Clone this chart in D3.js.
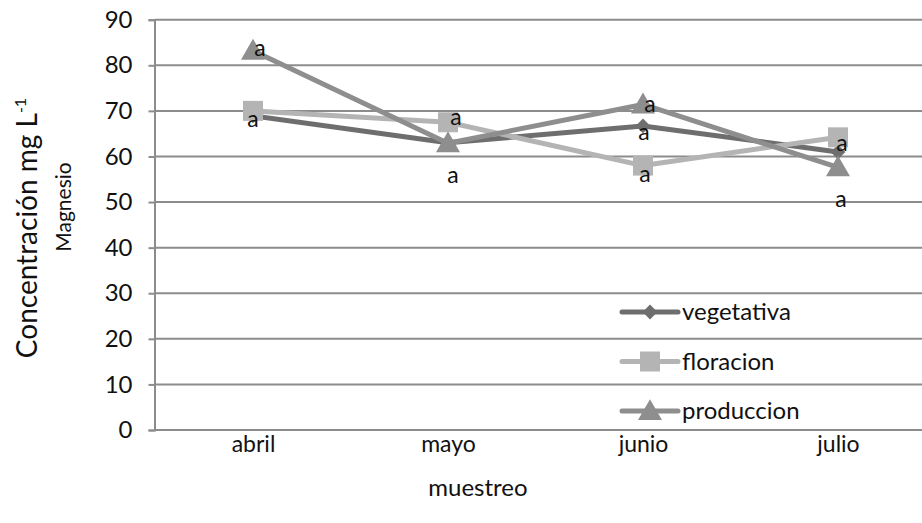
<!DOCTYPE html>
<html>
<head>
<meta charset="utf-8">
<script src="https://cdn.jsdelivr.net/npm/d3@7"></script>
<style>
  html, body { margin: 0; padding: 0; background: #fff; }
  svg { display: block; }
  text { font-family: Lato, "Open Sans", sans-serif; fill: #111; }
</style>
</head>
<body>
<svg id="chart" width="922" height="523"></svg>
<script>
// Magnesium concentration by sampling month
const months = ["abril", "mayo", "junio", "julio"];
const seriesNames = ["vegetativa", "floracion", "produccion"];
const vegetativa = [68.9, 63.0, 66.7, 61.0];
const floracion = [70.0, 67.5, 58.0, 64.2];
const produccion = [83.2, 62.9, 71.4, 57.6];
const yTicks = [0, 10, 20, 30, 40, 50, 60, 70, 80, 90];
// significance letters per point ("" = not shown)
const vegetativaLetters = ["a", "", "a", ""];
const floracionLetters = ["", "a", "a", "a"];
const produccionLetters = ["a", "a", "a", "a"];

const svg = d3.select("#chart");
const W = 922, H = 523;
const plot = { left: 154.5, top: 19.7, bottom: 430 };
const font = "Lato, 'Open Sans', sans-serif";

const x = d3.scalePoint().domain(months).range([155.5, 935.5]).padding(0.5);
const y = d3.scaleLinear().domain([0, 90]).range([plot.bottom, plot.top]);

const styles = {
  vegetativa: { color: "#6e6e6e", symbol: "diamond" },
  floracion:  { color: "#b4b4b4", symbol: "square" },
  produccion: { color: "#8e8e8e", symbol: "triangle" }
};
// letter placement relative to each marker
const letterShift = {
  vegetativa: [[0, 3], [0, 0], [1, 6], [0, 0]],
  floracion:  [[0, 0], [8, -5], [2, 8], [4, 6]],
  produccion: [[7, -3], [5, 32], [7, -1], [3, 32]]
};

const series = [
  { name: "vegetativa", values: vegetativa, letters: vegetativaLetters },
  { name: "floracion", values: floracion, letters: floracionLetters },
  { name: "produccion", values: produccion, letters: produccionLetters }
];

const gridColor = "#8c8c8c";

// horizontal gridlines
svg.append("g")
  .selectAll("line")
  .data(yTicks.filter(d => d > 0))
  .join("line")
  .attr("x1", plot.left).attr("x2", W)
  .attr("y1", d => y(d)).attr("y2", d => y(d))
  .attr("stroke", gridColor).attr("stroke-width", 2);

// y axis
const yAxis = svg.append("g")
  .attr("transform", `translate(${plot.left},0)`)
  .call(d3.axisLeft(y).tickValues(yTicks).tickSize(6).tickPadding(16));
yAxis.select(".domain").attr("stroke", gridColor).attr("stroke-width", 2);
yAxis.selectAll(".tick line").attr("stroke", gridColor).attr("stroke-width", 2);
yAxis.selectAll(".tick text")
  .style("font-family", font).style("font-size", "24px").attr("fill", "#111");

// x axis
const xAxis = svg.append("g")
  .attr("transform", `translate(0,${plot.bottom})`)
  .call(d3.axisBottom(x).tickSize(0).tickPadding(6));
xAxis.select(".domain").attr("d", `M${plot.left},0H${W}`)
  .attr("stroke", gridColor).attr("stroke-width", 2);
xAxis.selectAll(".tick text")
  .style("font-family", font).style("font-size", "23px").attr("fill", "#111");

// marker shapes
function marker(sel, kind, color) {
  if (kind === "square") {
    sel.append("path").attr("d", d3.symbol(d3.symbolSquare, 400)()).attr("fill", color);
  } else if (kind === "diamond") {
    sel.append("path").attr("d", d3.symbol(d3.symbolSquare, 110)())
      .attr("transform", "rotate(45)").attr("fill", color);
  } else {
    sel.append("path").attr("d", d3.symbol(d3.symbolTriangle, 250)())
      .attr("transform", "translate(0,2)").attr("fill", color);
  }
}

const line = d3.line().x((d, i) => x(months[i])).y(d => y(d));

const marks = svg.append("g");
series.forEach(s => {
  const st = styles[s.name];
  const g = marks.append("g");
  g.append("path").datum(s.values)
    .attr("d", line).attr("fill", "none")
    .attr("stroke", st.color).attr("stroke-width", 5)
    .attr("stroke-linejoin", "round");
  g.selectAll("g.pt").data(s.values).join("g")
    .attr("class", "pt")
    .attr("transform", (d, i) => `translate(${x(months[i])},${y(d)})`)
    .each(function () { marker(d3.select(this), st.symbol, st.color); });
});

// letters
const lettersG = svg.append("g");
series.forEach(s => {
  s.values.forEach((v, i) => {
    if (!s.letters[i]) return;
    const [dx, dy] = letterShift[s.name][i];
    lettersG.append("text")
      .attr("x", x(months[i]) + dx).attr("y", y(v) + dy)
      .attr("dy", "0.35em").attr("text-anchor", "middle")
      .style("font-size", "23px").attr("fill", "#000")
      .text(s.letters[i]);
  });
});

// legend
const legend = svg.append("g").attr("transform", "translate(622,312)");
series.forEach((s, i) => {
  const st = styles[s.name];
  const g = legend.append("g").attr("transform", `translate(0,${i * 49.5})`);
  g.append("line").attr("x1", 0).attr("x2", 56).attr("y1", 0).attr("y2", 0)
    .attr("stroke", st.color).attr("stroke-width", 5).attr("stroke-linecap", "round");
  const m = g.append("g").attr("transform", "translate(28,0)");
  marker(m, st.symbol, st.color);
  g.append("text").attr("x", 60).attr("y", 0).attr("dy", "0.35em")
    .style("font-size", "24px").text(s.name);
});

// axis titles
svg.append("text")
  .attr("x", 478).attr("y", 496)
  .attr("text-anchor", "middle").style("font-size", "24px").text("muestreo");

const yt = svg.append("text")
  .attr("transform", "translate(37,228) rotate(-90)")
  .attr("text-anchor", "middle").style("font-size", "28px");
yt.append("tspan").text("Concentración mg L");
yt.append("tspan").attr("dy", "-11").style("font-size", "16px").text("-1");

svg.append("text")
  .attr("transform", "translate(71,207) rotate(-90)")
  .attr("text-anchor", "middle").style("font-size", "21px").text("Magnesio");
</script>
</body>
</html>
